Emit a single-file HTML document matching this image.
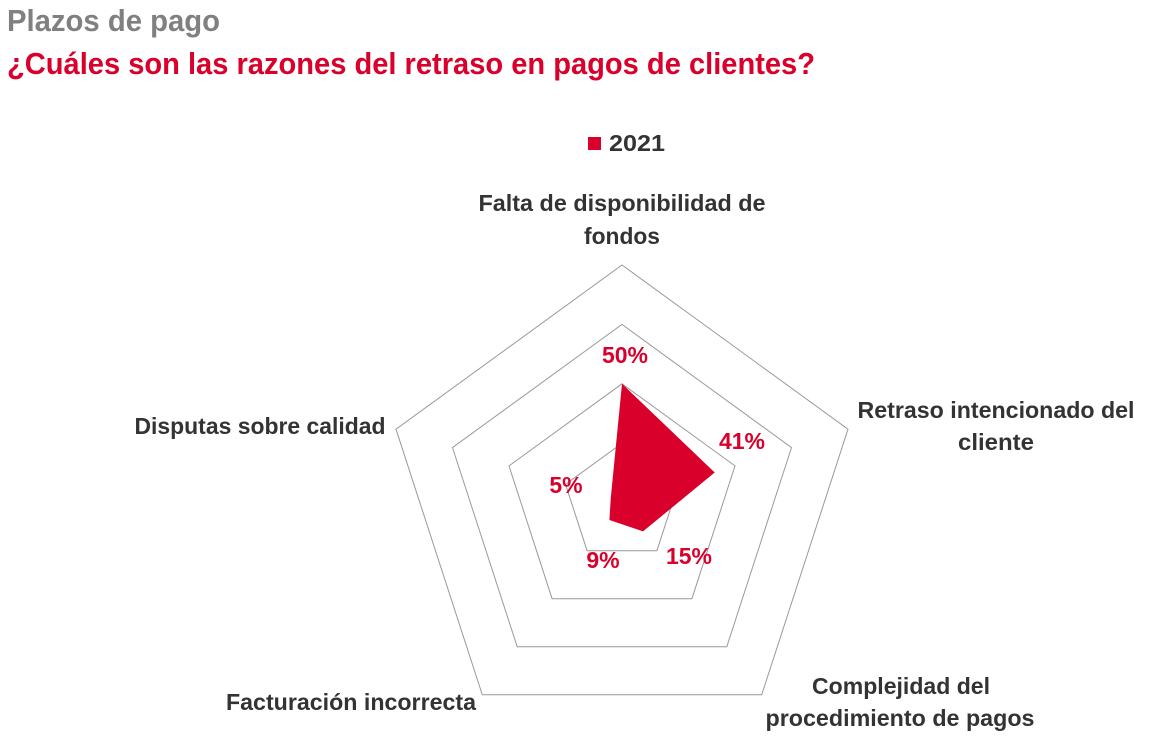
<!DOCTYPE html>
<html><head><meta charset="utf-8"><style>
html,body{margin:0;padding:0;background:#fff;width:1152px;height:742px;overflow:hidden}
svg{display:block}
text{font-family:"Liberation Sans",sans-serif;font-weight:bold}
</style></head><body>
<svg width="1152" height="742" viewBox="0 0 1152 742">
<text x="7" y="31" font-size="31" fill="#808080" textLength="213" lengthAdjust="spacingAndGlyphs">Plazos de pago</text>
<text x="7" y="74" font-size="31" fill="#d9002b" textLength="808" lengthAdjust="spacingAndGlyphs">¿Cuáles son las razones del retraso en pagos de clientes?</text>
<rect x="588" y="137" width="13" height="13" fill="#d9002b"/>
<text x="609" y="151" font-size="23" fill="#333" textLength="56" lengthAdjust="spacingAndGlyphs">2021</text>
<g fill="none" stroke="#999" stroke-width="1">
<polygon points="622,265 848,429.2 761.7,694.8 482.3,694.8 396,429.2"/>
<polygon points="622,324.4 791.5,447.6 726.8,646.7 517.2,646.7 452.5,447.6"/>
<polygon points="622,383.8 735,465.9 691.9,598.7 552.1,598.7 509,465.9"/>
<polygon points="622,443.2 678.5,484.3 656.9,550.7 587.1,550.7 565.5,484.3"/>
</g>
<polygon points="622,383.8 714.7,472.5 643,531.4 609.4,520 610.7,498.9" fill="#d9002b"/>
<g fill="#333" font-size="23" text-anchor="middle">
<text x="622" y="211" textLength="287" lengthAdjust="spacingAndGlyphs">Falta de disponibilidad de</text>
<text x="622" y="244" textLength="76" lengthAdjust="spacingAndGlyphs">fondos</text>
<text x="996" y="418" textLength="277" lengthAdjust="spacingAndGlyphs">Retraso intencionado del</text>
<text x="996" y="450" textLength="76" lengthAdjust="spacingAndGlyphs">cliente</text>
<text x="901" y="694" textLength="178" lengthAdjust="spacingAndGlyphs">Complejidad del</text>
<text x="900" y="726" textLength="269" lengthAdjust="spacingAndGlyphs">procedimiento de pagos</text>
<text x="351" y="710" textLength="250" lengthAdjust="spacingAndGlyphs">Facturación incorrecta</text>
<text x="260" y="434" textLength="251" lengthAdjust="spacingAndGlyphs">Disputas sobre calidad</text>
</g>
<g fill="#d9002b" font-size="23" text-anchor="middle">
<text x="625" y="363">50%</text>
<text x="742" y="449">41%</text>
<text x="689" y="564">15%</text>
<text x="603" y="568">9%</text>
<text x="566" y="493">5%</text>
</g>
</svg>
</body></html>
